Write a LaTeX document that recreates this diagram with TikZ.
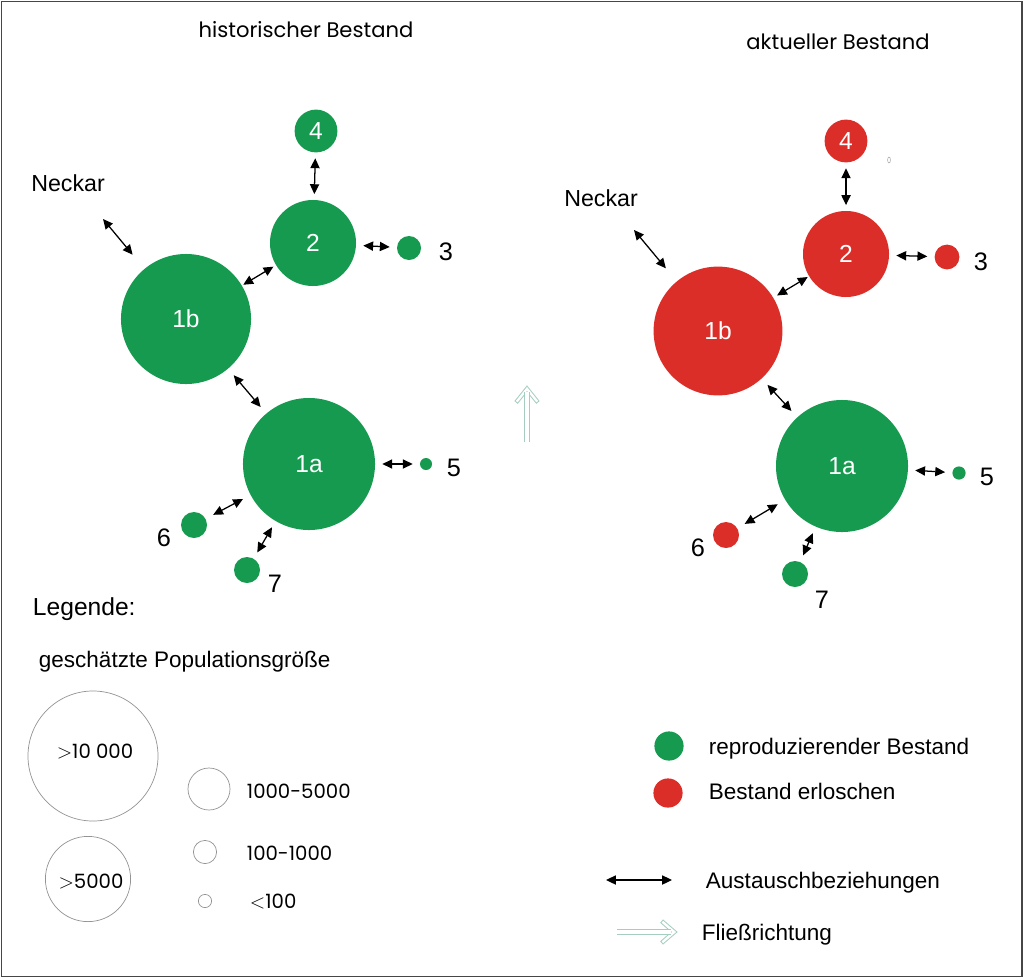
\documentclass[tikz,border=0pt]{standalone}
\usepackage{fontspec}
\setmainfont{Liberation Sans}
\newfontfamily\geofont{Poppins}
\usepackage{tikz}
\usetikzlibrary{arrows.meta}
\definecolor{popgreen}{RGB}{22,154,80}
\definecolor{popred}{RGB}{219,46,40}
\definecolor{flowcol}{RGB}{165,205,192}
\definecolor{framecol}{RGB}{70,70,70}

\begin{document}
\begin{tikzpicture}[x=0.025cm, y=-0.025cm,
		pop/.style = {circle, inner sep=0pt, text=white, font=\fontsize{17.5}{20}\selectfont},
		rep/.style = {pop, fill=popgreen},
		erl/.style = {pop, fill=popred},
		leg/.style = {circle, draw=gray!85, line width=0.5pt, inner sep=0pt},
		legtxt/.style = {font=\geofont\fontsize{14}{16}\selectfont},
		num/.style = {font=\fontsize{18}{21}\selectfont},
		lab/.style = {anchor=west, font=\fontsize{16}{19}\selectfont},
		head/.style = {font=\geofont\fontsize{15}{18}\selectfont},
		xch/.style = {{Triangle[length=7pt,width=6.5pt]}-{Triangle[length=7pt,width=6.5pt]}, line width=0.9pt, shorten <=5pt, shorten >=5pt},
		flow/.style = {draw=flowcol, double, double distance=3pt, line width=0.6pt},
		flowhead/.style = {draw=flowcol, line width=0.6pt, line join=miter}]
			\useasboundingbox (0,0) rectangle (1024,979);
			\draw[framecol, line width=1.4pt] (1.5,1.5) rectangle (1021.5,976.5);
			
			\node[head] (th) at (306,30) {historischer Bestand};
			\node[rep, minimum size=3.25cm] (h1b) at (186,319) {1b};
			\node[rep, minimum size=3.3cm] (h1a) at (309,464) {1a};
			\node[rep, minimum size=2.15cm] (h2) at (313,243) {2};
			\node[rep, minimum size=1.07cm] (h4) at (316,131) {4};
			\node[rep, minimum size=0.6cm] (h3) at (409,248) {};
			\node[rep, minimum size=0.3cm] (h5) at (426,464) {};
			\node[rep, minimum size=0.65cm] (h6) at (194,525) {};
			\node[rep, minimum size=0.65cm] (h7) at (247,570) {};
			\node[num] (h3l) at (446,252) {3};
			\node[num] (h5l) at (454,468) {5};
			\node[num] (h6l) at (164,538) {6};
			\node[num] (h7l) at (275,584) {7};
			\node[num, font=\fontsize{16.5}{19}\selectfont] (hn) at (68,183) {Neckar};
			\coordinate (hnk) at (103,219);
			\draw[xch, shorten <=0pt, shorten >=13pt] (hnk) -- (h1b);
			\draw[xch, shorten <=1pt, shorten >=2pt] (h1b) -- (h2);
			\draw[xch, shorten <=4pt, shorten >=4pt] (h2) -- (h4);
			\draw[xch] (h2) -- (h3);
			\draw[xch, shorten <=6pt, shorten >=6pt] (h1b) -- (h1a);
			\draw[xch] (h1a) -- (h5);
			\draw[xch, shorten <=6pt, shorten >=6pt] (h1a) -- (h6);
			\draw[xch] (h1a) -- (h7);
			
			\node[head] (ta) at (838,42) {aktueller Bestand};
			\node[erl, minimum size=3.22cm] (a1b) at (718,331) {1b};
			\node[rep, minimum size=3.3cm] (a1a) at (842,466) {1a};
			\node[erl, minimum size=2.15cm] (a2) at (846,254) {2};
			\node[erl, minimum size=1.07cm] (a4) at (846,141) {4};
			\node[erl, minimum size=0.62cm] (a3) at (947,257) {};
			\node[rep, minimum size=0.33cm] (a5) at (959,473) {};
			\node[erl, minimum size=0.65cm] (a6) at (726,535) {};
			\node[rep, minimum size=0.65cm] (a7) at (795,574) {};
			\node[num] (a3l) at (981,262) {3};
			\node[num] (a5l) at (987,477) {5};
			\node[num] (a6l) at (698,548) {6};
			\node[num] (a7l) at (822,600) {7};
			\node[num, font=\fontsize{16.5}{19}\selectfont] (an) at (601,198) {Neckar};
			\draw[gray!70, line width=0.4pt] (889,160) ellipse (1.4 and 3);
			\coordinate (ank) at (634,230);
			\draw[xch, shorten <=0pt, shorten >=12pt] (ank) -- (a1b);
			\draw[xch, shorten <=3pt, shorten >=1pt] (a1b) -- (a2);
			\draw[xch, shorten <=4pt, shorten >=4pt] (a2) -- (a4);
			\draw[xch] (a2) -- (a3);
			\draw[xch, shorten <=6pt, shorten >=6pt] (a1b) -- (a1a);
			\draw[xch] (a1a) -- (a5);
			\draw[xch, shorten <=6pt, shorten >=6pt] (a1a) -- (a6);
			\draw[xch] (a1a) -- (a7);
			
			\coordinate (fl1) at (527,442);
			\coordinate (fl2) at (527,386);
			\draw[flowhead, shift={(fl2)}] (-12,15) -- (0,0) -- (12,15) -- (9.3,17.2) -- (0,5.6) -- (-9.3,17.2) -- cycle;
			\draw[flow] (fl1) -- ([yshift=-4.4pt]fl2);
			
			\node[anchor=west, font=\fontsize{17.5}{20}\selectfont] (lg) at (28,609) {Legende:};
			\node[anchor=west, font=\fontsize{16}{19}\selectfont] (gp) at (34,662) {geschätzte Populationsgröße};
			\node[leg, minimum size=3.25cm] (g1) at (93,756) {};
			\node[leg, minimum size=2.13cm] (g2) at (88,879) {};
			\node[leg, minimum size=1.05cm] (g3) at (209,789) {};
			\node[leg, minimum size=0.58cm] (g4) at (205,852) {};
			\node[leg, minimum size=0.33cm] (g5) at (205,901) {};
			\node[legtxt] (g1l) at (95,752) {$>$10 000};
			\node[legtxt] (g2l) at (91,882) {$>$5000};
			\node[legtxt, anchor=west] (g3l) at (242,791) {1000-5000};
			\node[legtxt, anchor=west] (g4l) at (242,853) {100-1000};
			\node[legtxt, anchor=west] (g5l) at (245,902) {$<$100};
			
			\node[rep, minimum size=0.73cm] (kr) at (669,746) {};
			\node[erl, minimum size=0.73cm] (ke) at (668,793) {};
			\node[lab] (krl) at (704,749) {reproduzierender Bestand};
			\node[lab] (kel) at (704,791) {Bestand erloschen};
			\coordinate (ax1) at (606,880);
			\coordinate (ax2) at (672,880);
			\draw[xch, shorten <=0pt, shorten >=0pt] (ax1) -- (ax2);
			\node[lab] (axl) at (701,883) {Austauschbeziehungen};
			\coordinate (fl3) at (617,932);
			\coordinate (fl4) at (677,932);
			\draw[flowhead, shift={(fl4)}] (-14,-12) -- (0,0) -- (-14,12) -- (-16.2,9.3) -- (-5.6,0) -- (-16.2,-9.3) -- cycle;
			\draw[flow] (fl3) -- ([xshift=-4.4pt]fl4);
			\node[lab] (fll) at (697,935) {Fließrichtung};
			
			\end{tikzpicture}
\end{document}
